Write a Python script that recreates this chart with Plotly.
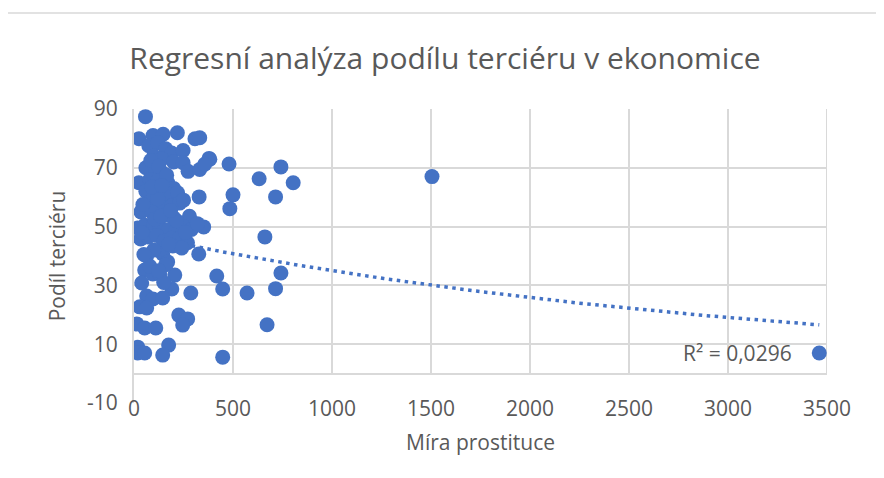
import numpy as np
import plotly.graph_objects as go

# Data (x: Míra prostituce, y: Podíl terciéru)
mira = [
    58, 25, 96, 147, 219, 308, 75, 120, 160, 190, 248, 100, 379, 140, 200,
    248, 273, 332, 480, 383, 357, 60, 110, 150, 24, 80, 120, 170, 200, 60,
    100, 130, 155, 180, 220, 329, 500, 70, 110, 140, 190, 230, 250, 484, 35,
    90, 160, 200, 280, 352, 19, 55, 100, 130, 175, 210, 250, 290, 320, 34,
    70, 115, 150, 190, 230, 270, 64, 145, 196, 241, 327, 100, 170, 54, 95,
    130, 206, 418, 39, 191, 287, 448, 571, 64, 95, 145, 29, 64, 226, 271,
    246, 14, 54, 110, 175, 19, 19, 54, 145, 448, 661, 742, 715, 672, 742,
    632, 804, 715, 1505, 3461, 332, 85, 125, 165, 45, 105, 135, 175, 215,
    80, 150, 40, 120, 185, 260, 90, 140, 50, 160, 125,
]
podil = [
    87.4, 79.9, 81.0, 81.4, 81.9, 79.9, 77.5, 78.5, 76.5, 75.0, 75.9, 74.0,
    73.2, 73.0, 72.0, 71.7, 68.8, 69.4, 71.3, 72.9, 71.2, 70.0, 69.0, 68.0,
    64.9, 66.0, 65.5, 65.0, 63.0, 62.0, 61.0, 62.0, 60.0, 61.0, 61.5, 60.1,
    60.8, 58.0, 57.0, 56.5, 57.0, 58.0, 59.0, 56.1, 55.0, 55.0, 54.0, 53.0,
    53.5, 49.9, 49.5, 50.5, 51.0, 50.0, 49.0, 48.5, 50.0, 49.0, 51.0, 45.8,
    46.5, 47.0, 45.0, 46.0, 46.0, 44.5, 40.0, 40.7, 43.4, 42.7, 40.7, 42.0,
    38.0, 35.2, 33.9, 33.9, 33.5, 33.2, 30.8, 28.8, 27.4, 28.8, 27.4, 26.4,
    25.4, 25.7, 22.7, 22.3, 19.9, 18.6, 16.5, 16.9, 15.5, 15.5, 9.7, 9.0,
    7.0, 7.0, 6.3, 5.6, 46.5, 34.2, 28.9, 16.6, 70.3, 66.3, 64.9, 60.1,
    67.0, 7.0, 80.2, 72.5, 70.5, 67.5, 57.5, 52.5, 53.5, 44.0, 52.0, 36.5,
    31.0, 48.0, 59.5, 55.5, 48.0, 63.5, 64.0, 40.5, 37.0, 35.0,
]
r2_label = "R² = 0,0296"
x_ticks = [0, 500, 1000, 1500, 2000, 2500, 3000, 3500]
y_ticks = [-10, 10, 30, 50, 70, 90]

BLUE = "#4472C4"
GRID = "#D9D9D9"
TXT = "#595959"
FONT = "Open Sans"

x = np.array(mira, dtype=float)
y = np.array(podil, dtype=float)
# Exponential trendline (Excel style): ln(y) = ln(a) + b*x
b, ln_a = np.polyfit(x, np.log(y), 1)
tx = np.linspace(x.min(), x.max(), 200)
ty = np.exp(ln_a) * np.exp(b * tx)

fig = go.Figure()
fig.add_trace(go.Scatter(
    x=tx, y=ty, mode="lines",
    line=dict(color=BLUE, width=3.5, dash="3.5px,4.5px"),
    hoverinfo="skip", showlegend=False))
fig.add_trace(go.Scatter(
    x=mira, y=podil, mode="markers",
    marker=dict(color=BLUE, size=15, line=dict(width=0)),
    showlegend=False))

# vertical gridlines only from 0 up to the top
shapes = []
for t in x_ticks[1:]:
    shapes.append(dict(type="line", xref="x", yref="y", x0=t, x1=t, y0=0, y1=90,
                       line=dict(color=GRID, width=2), layer="below"))
# chart-area border (page offset of 8px compensated)
OFF = 8
W, H = 884, 478
L, R, T, B = 126, 65, 101, 83
pw, ph = W - L - R, H - T - B
def px_x(p):
    return (p - OFF - L) / pw
def px_y(p):
    return (H - B - (p - OFF)) / ph
shapes.append(dict(type="rect", xref="paper", yref="paper",
                   x0=px_x(5), x1=px_x(879), y0=px_y(520), y1=px_y(13),
                   line=dict(color=GRID, width=1.5), layer="below"))

fig.update_layout(
    width=W, height=H,
    margin=dict(l=L, r=R, t=T, b=B),
    paper_bgcolor="white", plot_bgcolor="white",
    font=dict(family=FONT, color=TXT, size=21),
    title=dict(text="Regresní analýza podílu terciéru v ekonomice",
               x=(445 - OFF) / W, xref="container", xanchor="center",
               y=1 - (58 - OFF) / H, yref="container", yanchor="middle",
               font=dict(size=30, color=TXT, family=FONT)),
    shapes=shapes,
    annotations=[dict(text=r2_label, x=3000, y=7, xref="x", yref="y",
                      xanchor="center", yanchor="middle", showarrow=False,
                      xshift=9, font=dict(size=21, color=TXT, family=FONT))],
    xaxis=dict(range=[0, 3500], tickvals=x_ticks, showgrid=False,
               zeroline=False, showline=False, ticks="",
               ticklabelstandoff=-9,
               title=dict(text="Míra prostituce", standoff=14,
                          font=dict(size=21, color=TXT))),
    yaxis=dict(range=[-10, 90], tickvals=y_ticks,
               ticktext=[str(v) for v in y_ticks], showgrid=True,
               gridcolor=GRID, gridwidth=2, zeroline=True, zerolinecolor=GRID,
               zerolinewidth=2, showline=True, linecolor=GRID, linewidth=2,
               ticks="", ticklabelstandoff=10,
               title=dict(text="Podíl terciéru", standoff=16,
                          font=dict(size=21, color=TXT))),
)

fig.write_html("out.html")
